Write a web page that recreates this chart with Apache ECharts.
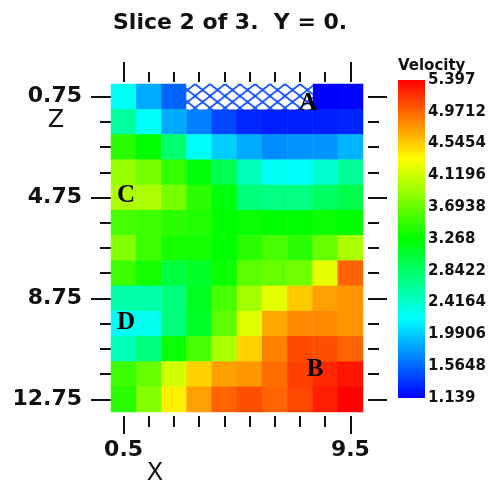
<!DOCTYPE html>
<html>
<head>
<meta charset="utf-8">
<script src="https://cdn.jsdelivr.net/npm/echarts@6/dist/echarts.min.js"></script>
<style>html,body{margin:0;padding:0;background:#fff;}#c{width:494px;height:487px;}</style>
</head>
<body>
<div id="c"></div>
<script>
// ---- data ----
const xCats = ['0.5','1.5','2.5','3.5','4.5','5.5','6.5','7.5','8.5','9.5'];
const zCats = ['0.75','1.75','2.75','3.75','4.75','5.75','6.75','7.75','8.75','9.75','10.75','11.75','12.75'];
const colorbarTicks = ['1.139','1.5648','1.9906','2.4164','2.8422','3.268','3.6938','4.1196','4.5454','4.9712','5.397'];
const vMin = 1.139, vMax = 5.397;
// velocity per Z row (null = no data, hatched)
const z0  = [2.25, 1.85, 1.56, null, null, null, null, null, 1.14, 1.16];
const z1  = [2.60, 2.22, 1.85, 1.68, 1.43, 1.30, 1.27, 1.27, 1.27, 1.29];
const z2  = [3.44, 3.27, 2.81, 2.20, 2.00, 1.85, 1.72, 1.76, 1.76, 1.89];
const z3  = [3.89, 3.77, 3.48, 3.22, 2.93, 2.50, 2.25, 2.20, 2.41, 2.63];
const z4  = [3.98, 3.98, 3.77, 3.44, 3.22, 2.76, 2.72, 2.72, 2.86, 2.95];
const z5  = [3.56, 3.52, 3.44, 3.40, 3.27, 3.31, 3.27, 3.27, 3.31, 3.27];
const z6  = [3.81, 3.52, 3.35, 3.35, 3.27, 3.44, 3.56, 3.44, 3.69, 3.98];
const z7  = [3.52, 3.35, 3.01, 3.10, 3.31, 3.65, 3.69, 3.73, 4.23, 4.98];
const z8  = [2.56, 2.56, 2.76, 3.14, 3.56, 3.94, 4.23, 4.56, 4.73, 4.77];
const z9  = [2.25, 2.28, 2.76, 3.10, 3.65, 4.20, 4.69, 4.82, 4.82, 4.77];
const z10 = [2.50, 2.76, 3.31, 3.56, 3.98, 4.52, 4.86, 5.10, 5.07, 4.98];
const z11 = [3.52, 3.69, 4.14, 4.52, 4.73, 4.77, 4.94, 5.14, 5.23, 5.31];
const z12 = [3.44, 3.81, 4.40, 4.73, 4.98, 5.07, 4.98, 5.10, 5.27, 5.397];
const rows = [z0,z1,z2,z3,z4,z5,z6,z7,z8,z9,z10,z11,z12];
const annotations = [
  {text:'A', x:308, y:104},
  {text:'B', x:315, y:370},
  {text:'C', x:126, y:196},
  {text:'D', x:126, y:323}
];
const rampColors = ['#0000ff','#00ffff','#00ff00','#ffff00','#ff0000'];

// ---- build ----
const cells = [], missing = [];
rows.forEach((row, r) => row.forEach((v, c) => {
  if (v === null) missing.push([c, r, 0]); else cells.push([c, r, v]);
}));

// hatch pattern
const pat = document.createElement('canvas');
pat.width = 15; pat.height = 12;
const g = pat.getContext('2d');
g.fillStyle = '#ffffff'; g.fillRect(0,0,15,12);
g.strokeStyle = '#1f5cff'; g.lineWidth = 1.8;
g.beginPath();
g.moveTo(0,0); g.lineTo(15,12);
g.moveTo(15,0); g.lineTo(0,12);
g.stroke();
g.fillStyle = '#1f5cff';
[[0,0],[15,0],[0,12],[15,12],[7.5,6]].forEach(p=>{g.fillRect(p[0]-1.5,p[1]-1.5,3,3);});

const AX_FONT = {fontFamily:'DejaVu Sans', fontWeight:'bold', fontSize:22, color:'#111'};
const tickStyle = {color:'#111', width:2};

function xAx(pos, offset, len, interval, showLabel) {
  return {type:'category', data:xCats, gridIndex:0, position:pos, offset:offset,
    axisLine:{show:false}, splitLine:{show:false},
    axisTick:{show:true, alignWithLabel:true, interval:interval, length:len, lineStyle:tickStyle},
    axisLabel:Object.assign({show:showLabel, interval:8, margin:23}, AX_FONT)};
}
function yAx(pos, offset, len, interval, showLabel) {
  return {type:'category', data:zCats, gridIndex:0, inverse:true, position:pos, offset:offset,
    axisLine:{show:false}, splitLine:{show:false},
    axisTick:{show:true, alignWithLabel:true, interval:interval, length:len, lineStyle:tickStyle},
    axisLabel:Object.assign({show:showLabel, interval:3, margin:29}, AX_FONT)};
}

const chart = echarts.init(document.getElementById('c'), null, {renderer:'canvas'});
chart.setOption({
  animation:false,
  backgroundColor:'#ffffff',
  title:{text:'Slice 2 of 3.  Y = 0.', left:113, top:12, padding:0,
    textStyle:{fontFamily:'DejaVu Sans', fontWeight:'bold', fontSize:22, color:'#111'}},
  grid:[
    {left:111, top:84, width:252, height:328, outerBoundsMode:'none'},
    {left:398, top:80, width:27, height:318, outerBoundsMode:'none'}
  ],
  xAxis:[
    xAx('bottom', 4, 11, 0, true),
    xAx('bottom', 4, 18, 8, false),
    xAx('top', 2, 10, 0, false),
    xAx('top', 2, 20, 8, false),
    {type:'value', gridIndex:1, show:false}
  ],
  yAxis:[
    yAx('left', 0, 11, 0, true),
    yAx('left', 0, 20, 3, false),
    yAx('right', 5, 11, 0, false),
    yAx('right', 5, 19, 3, false),
    {type:'category', gridIndex:1, data:colorbarTicks, boundaryGap:false, position:'right',
      axisLine:{show:false}, axisTick:{show:false}, splitLine:{show:false},
      axisLabel:{show:true, interval:0, margin:3, fontFamily:'DejaVu Sans', fontWeight:'bold', fontSize:15, color:'#111'}}
  ],
  visualMap:{
    type:'continuous', show:false, min:vMin, max:vMax, seriesIndex:0,
    inRange:{color:rampColors}
  },
  series:[
    {type:'heatmap', xAxisIndex:0, yAxisIndex:0, data:cells, emphasis:{disabled:true},
      itemStyle:{borderWidth:0}},
    {type:'heatmap', xAxisIndex:0, yAxisIndex:0, data:missing, emphasis:{disabled:true},
      itemStyle:{color:{image:pat, repeat:'repeat'}, borderWidth:0}}
  ],
  graphic:[
    {type:'rect', left:398, top:80, shape:{width:27, height:318},
      style:{fill:new echarts.graphic.LinearGradient(0,1,0,0,
        rampColors.map((c,i)=>({offset:i/(rampColors.length-1), color:c})))}},
    {type:'text', left:398, top:59, style:{text:'Velocity', font:'bold 15px "DejaVu Sans"', fill:'#111'}},
    {type:'text', x:56, y:121, style:{text:'Z', font:'24px "DejaVu Sans"', fill:'#111', align:'center', verticalAlign:'middle'}},
    {type:'text', x:155, y:474, style:{text:'X', font:'24px "DejaVu Sans"', fill:'#111', align:'center', verticalAlign:'middle'}}
  ].concat(annotations.map(a => ({type:'text', x:a.x, y:a.y, z:100,
      style:{text:a.text, font:'bold 25px "Liberation Serif"', fill:'#000', align:'center', verticalAlign:'middle'}})))
});
</script>
</body>
</html>
